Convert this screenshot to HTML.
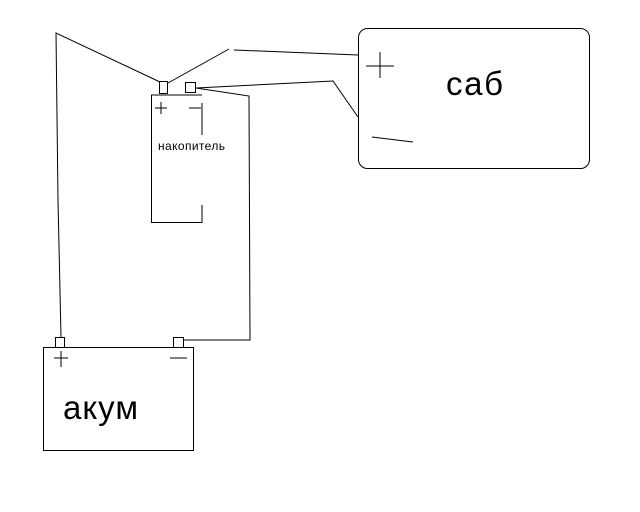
<!DOCTYPE html>
<html><head><meta charset="utf-8"><style>
html,body{margin:0;padding:0;background:#fff;width:640px;height:512px;overflow:hidden}
text{font-family:"Liberation Sans",sans-serif;fill:#000}
</style></head><body>
<svg width="640" height="512" viewBox="0 0 640 512" xmlns="http://www.w3.org/2000/svg">
<g fill="none" stroke="#000" stroke-width="1">
<polyline points="61,337 58,200 56,33 160,82"/>
<polyline points="168,83 229,49"/>
<polyline points="234,50 358,55"/>
<polyline points="196,88 333,81 358,117"/>
<polyline points="196,88 249,96 250,340 183,340"/>
<rect x="159.5" y="81.5" width="8" height="12"/>
<rect x="185.5" y="82.5" width="10" height="10"/>
<polyline points="202,95 151.5,95 151.5,222.5 202,222.5 202,205"/>
<line x1="202" y1="103" x2="202" y2="135"/>
<line x1="155" y1="108" x2="167" y2="108"/>
<line x1="161" y1="102" x2="161" y2="114"/>
<line x1="189" y1="108" x2="201" y2="108"/>
<rect x="358.5" y="28.5" width="231" height="140" rx="9"/>
<line x1="366" y1="66" x2="394" y2="66"/>
<line x1="380" y1="52" x2="380" y2="78"/>
<line x1="372" y1="137" x2="413" y2="142"/>
<rect x="43.5" y="347.5" width="150" height="103"/>
<rect x="55.5" y="337.5" width="9" height="10"/>
<rect x="173.5" y="337.5" width="10" height="10"/>
<line x1="54" y1="358" x2="68" y2="358"/>
<line x1="61" y1="351" x2="61" y2="367"/>
<line x1="170" y1="358" x2="187" y2="358"/>
</g>
<text x="158" y="150" font-size="12" textLength="67">накопитель</text>
<text x="446" y="95" font-size="33" textLength="57">саб</text>
<text x="63" y="419" font-size="33" textLength="75">акум</text>
</svg>
</body></html>
